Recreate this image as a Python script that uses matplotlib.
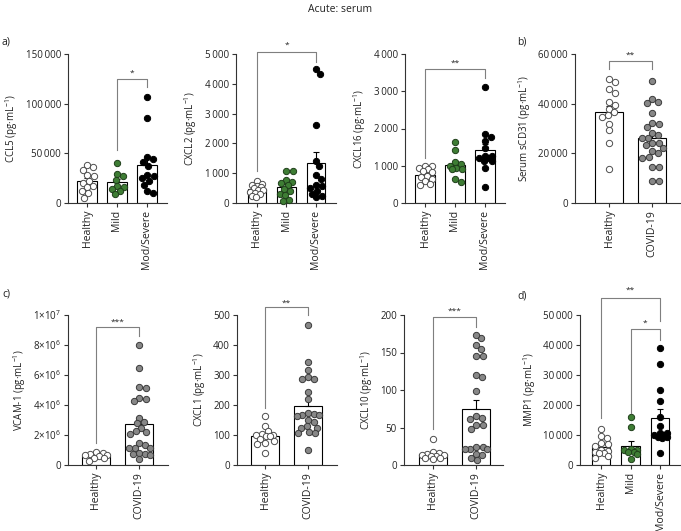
import numpy as np
import matplotlib
matplotlib.use('Agg')
import matplotlib.pyplot as plt

plt.rcParams['font.family'] = ['Open Sans', 'DejaVu Sans']
plt.rcParams['mathtext.default'] = 'regular'

# ---- data (pg/mL) ----
ccl5_healthy = [38000, 36000, 33000, 28000, 27000, 22000, 20000, 17000, 16000, 12000, 10000, 5000]
ccl5_mild = [40000, 29000, 27000, 23000, 16700, 16000, 14000, 12000, 9000]
ccl5_severe = [107000, 86000, 46000, 44000, 41000, 37000, 28000, 27000, 25000, 22000, 18000, 12000, 10000]

cxcl2_healthy = [750, 650, 620, 580, 550, 500, 450, 420, 380, 350, 300, 250, 200]
cxcl2_mild = [1090, 1060, 760, 700, 670, 610, 470, 390, 310, 280, 110, 60]
cxcl2_severe = [4490, 4330, 2630, 1400, 1230, 930, 810, 600, 580, 500, 400, 300, 250, 200]

cxcl16_healthy = [1000, 980, 950, 900, 850, 820, 720, 700, 650, 600, 500, 480]
cxcl16_mild = [1650, 1410, 1100, 1040, 1000, 940, 910, 910, 650, 560]
cxcl16_severe = [3110, 1860, 1770, 1670, 1470, 1250, 1250, 1200, 1200, 1120, 1120, 940, 420]

cd31_healthy = [49900, 48600, 45800, 44400, 40800, 39500, 38000, 35500, 34500, 36500, 32000, 29500, 24100, 13800]
cd31_covid = [49300, 41800, 40500, 40400, 36200, 32100, 31900, 30800, 28100, 27500, 26100, 26100,
              24100, 24100, 23400, 22100, 20800, 20100, 18700, 18300, 14500, 14500, 8700, 8700]

vcam_healthy = [850e3, 820e3, 750e3, 700e3, 670e3, 620e3, 500e3, 450e3, 270e3]
vcam_covid = [8.0e6, 6.5e6, 5.2e6, 5.16e6, 4.47e6, 4.4e6, 4.29e6, 3.16e6, 2.9e6, 2.78e6, 2.5e6, 2.27e6,
              2.2e6, 2.1e6, 1.49e6, 1.36e6, 1.16e6, 1.16e6, 1.16e6, 0.82e6, 0.71e6, 0.71e6, 0.67e6, 0.4e6]

cxcl1_healthy = [163, 131, 112, 104, 101, 100, 98, 96, 88, 80, 75, 70, 39]
cxcl1_covid = [467, 344, 317, 292, 287, 286, 244, 220, 174, 170, 167, 164, 167, 150, 142, 130,
               124, 124, 106, 111, 106, 50]

cxcl10_healthy = [35, 17, 16, 15, 14, 13, 12, 12, 10, 9, 8]
cxcl10_covid = [169, 173, 155, 160, 145, 146, 118, 120, 99, 65, 63, 61, 53, 53, 48, 24, 24, 22,
                21, 21, 13, 15, 7, 9]

mmp1_healthy = [11900, 9700, 9100, 7200, 6400, 6900, 5000, 4800, 4400, 4100, 3100, 3900, 2200]
mmp1_mild = [16100, 12800, 5200, 5000, 5000, 4400, 4400, 3700, 1900]
mmp1_severe = [39100, 33700, 25000, 21300, 15900, 13000, 10600, 10600, 10000, 10000, 9400, 8900, 9400, 3900]

three_groups = ['Healthy', 'Mild', 'Mod/Severe']
two_groups = ['Healthy', 'COVID-19']

styles = {
    'Healthy': ('white', '#4d4d4d'),
    'Mild': ('#3e7d34', '#1f3f1a'),
    'Mod/Severe': ('black', 'black'),
    'COVID-19': ('#878787', '#3a3a3a'),
}

W, H = 681, 531
fig = plt.figure(figsize=(W / 100, H / 100), dpi=100)
GRAY = '#7f7f7f'
AX = '#333333'
DIAM = 6.3  # marker diameter in px


def make_ax(l, r, t, b):
    return fig.add_axes([l / W, 1 - b / H, (r - l) / W, (b - t) / H])


def swarm(ax, x0, vals, maxw):
    # simple beeswarm in pixel space, width limited to maxw px each side
    vals = np.asarray(vals, float)
    pts = ax.transData.transform(np.column_stack([np.full(len(vals), x0), vals]))
    ypx = pts[:, 1]
    scale = ax.transData.transform([(1, 0)])[0, 0] - ax.transData.transform([(0, 0)])[0, 0]
    steps = np.arange(0, maxw + 0.01, 0.5)
    cands = [0.0] + [s * k for k in steps[1:] for s in (1, -1)]
    placed = []
    res = np.zeros(len(vals))
    for i in np.argsort(-vals):
        best, bestd = 0.0, -1
        for c in cands:
            d = min([np.hypot(c - px, ypx[i] - py) for px, py in placed] or [99])
            if d >= DIAM * 0.97:
                best = c
                break
            if d > bestd:
                best, bestd = c, d
        placed.append((best, ypx[i]))
        res[i] = best
    return x0 + res / scale


def fmt(v):
    return f"{int(v):,}".replace(",", "\u2009")


def panel(px, groups, data, ymax, ystep, ylabel, brackets, ticklabels=None):
    l, r, t, b, p0, sp = px
    ax = make_ax(l, r, t, b)
    ax.set_xlim((l - p0) / sp, (r - p0) / sp)
    ax.set_ylim(0, ymax)
    for s in ['top', 'right']:
        ax.spines[s].set_visible(False)
    for s in ['left', 'bottom']:
        ax.spines[s].set_color(AX)
        ax.spines[s].set_linewidth(0.8)
    ticks = np.arange(0, ymax + ystep / 2, ystep)
    ax.set_yticks(ticks)
    ax.set_yticklabels(ticklabels if ticklabels else [fmt(v) for v in ticks])
    ax.set_xticks(range(len(groups)))
    ax.set_xticklabels(groups, rotation=90)
    ax.tick_params(direction='out', length=3, width=0.8, colors=AX, labelcolor='#222222',
                   labelsize=7, pad=2)
    ax.tick_params(axis='x', labelsize=7.6)
    ax.set_ylabel(ylabel, fontsize=7, color='#222222', labelpad=4)
    bar_w = 0.64
    maxw = bar_w * sp / 2 - 2.5
    for i, (g, vals) in enumerate(zip(groups, data)):
        v = np.asarray(vals, float)
        m = v.mean()
        sem = v.std(ddof=1) / np.sqrt(len(v))
        ax.bar(i, m, width=bar_w, color='white', edgecolor='black', linewidth=0.8, zorder=1)
        ax.errorbar(i, m, yerr=[[0], [sem]], color='black', capsize=2.5, elinewidth=0.8,
                    capthick=0.8, zorder=2)
        fc, ec = styles[g]
        xs = swarm(ax, i, v, maxw)
        ax.plot(xs, v, 'o', ms=DIAM * 0.72, mfc=fc, mec=ec, mew=0.7, zorder=3, clip_on=False)
    for i, j, yb, yl, yr, txt, yt in brackets:
        ax.plot([i, i, j, j], [yl, yb, yb, yr], color=GRAY, lw=0.8, clip_on=False, zorder=4)
        ax.text((i + j) / 2, yt, txt, ha='center', va='center', fontsize=6, color='#222222')
    return ax


# top row
panel((68, 167, 54, 203, 87, 30), three_groups, [ccl5_healthy, ccl5_mild, ccl5_severe],
      150000, 50000, 'CCL5 (pg·mL$^{-1}$)',
      [(1, 2, 124900, 53600, 116500, '*', 131000)])
panel((236, 336, 54, 203, 257, 29.5), three_groups, [cxcl2_healthy, cxcl2_mild, cxcl2_severe],
      5000, 1000, 'CXCL2 (pg·mL$^{-1}$)',
      [(0, 2, 5078, 1060, 4740, '*', 5300)])
panel((405, 505, 54, 203, 425, 30), three_groups, [cxcl16_healthy, cxcl16_mild, cxcl16_severe],
      4000, 1000, 'CXCL16 (pg·mL$^{-1}$)',
      [(0, 2, 3590, 1205, 3350, '**', 3760)])
panel((575, 680, 54, 203, 609, 43), two_groups, [cd31_healthy, cd31_covid],
      60000, 20000, 'Serum sCD31 (pg·mL$^{-1}$)',
      [(0, 1, 57200, 53800, 53800, '**', 59700)])

# bottom row
vcam_labels = ['0', '2×10$^6$', '4×10$^6$', '6×10$^6$', '8×10$^6$', '1×10$^7$']
panel((68, 168, 315, 465, 96, 43), two_groups, [vcam_healthy, vcam_covid],
      1e7, 2e6, 'VCAM-1 (pg·mL$^{-1}$)',
      [(0, 1, 9.18e6, 1.44e6, 8.6e6, '***', 9.55e6)], ticklabels=vcam_labels)
panel((237, 337, 315, 465, 265, 43), two_groups, [cxcl1_healthy, cxcl1_covid],
      500, 100, 'CXCL1 (pg·mL$^{-1}$)',
      [(0, 1, 528, 189, 500, '**', 540)])
panel((404, 503, 315, 465, 433, 43), two_groups, [cxcl10_healthy, cxcl10_covid],
      200, 50, 'CXCL10 (pg·mL$^{-1}$)',
      [(0, 1, 197, 47.5, 184, '***', 205)])
panel((580, 680, 315, 465, 601, 29.5), three_groups, [mmp1_healthy, mmp1_mild, mmp1_severe],
      50000, 10000, 'MMP1 (pg·mL$^{-1}$)',
      [(0, 2, 55800, 15600, 48000, '**', 58300),
       (1, 2, 45200, 17200, 41700, '*', 47300)])

fig.text(0.5, 1 - 10 / H, 'Acute: serum', ha='center', va='center', fontsize=7.5, color='#222222')
for lab, x, y in [('a)', 2, 42), ('b)', 517, 42), ('c)', 2, 294), ('d)', 517, 296)]:
    fig.text(x / W, 1 - y / H, lab, ha='left', va='center', fontsize=7.5, color='#222222')

fig.savefig('out.png', dpi=100)
